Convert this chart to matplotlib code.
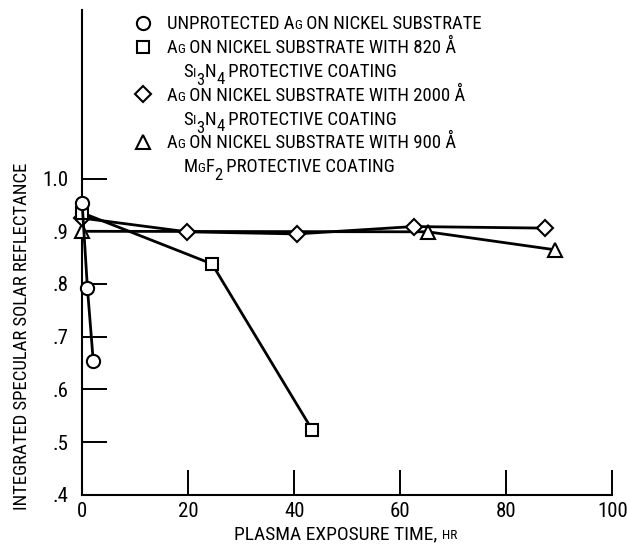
import matplotlib
matplotlib.use("Agg")
import matplotlib.pyplot as plt
from matplotlib import font_manager as fm
from matplotlib.lines import Line2D

# pick a narrow lettering font if one is around
have = set(f.name for f in fm.fontManager.ttflist)
narrow = ['Liberation Sans Narrow', 'Roboto Condensed', 'PT Sans Narrow', 'Archivo Narrow',
          'Fira Sans Condensed', 'IBM Plex Sans Condensed', 'Open Sans Condensed',
          'Encode Sans Condensed', 'DejaVu Sans']
font = next(n for n in narrow if n in have or n == 'DejaVu Sans')
plt.rcParams['font.family'] = [font, 'DejaVu Sans']

# data
unprot_t = [0, 1.0, 2.1]
unprot_r = [0.953, 0.792, 0.653]

si820_t = [0, 24.5, 43.4]
si820_r = [0.935, 0.838, 0.523]

si2000_t = [0, 19.8, 40.5, 62.5, 87.3]
si2000_r = [0.925, 0.899, 0.895, 0.909, 0.906]

mgf_t = [0, 65.2, 89.1]
mgf_r = [0.900, 0.899, 0.865]

xticks = [0, 20, 40, 60, 80, 100]
yticks = [0.4, 0.5, 0.6, 0.7, 0.8, 0.9, 1.0]
ytick_labels = ['.4', '.5', '.6', '.7', '.8', '.9', '1.0']

fig = plt.figure(figsize=(6.27, 5.44), dpi=100)
ax = fig.add_axes([0.131, 0.0906, 0.8456, 0.891])

style = dict(color='black', lw=2.0, mfc='white', mec='black', mew=1.5, clip_on=False)
ax.plot(mgf_t, mgf_r, marker='^', ms=10, zorder=3, **style)
ax.plot(si2000_t, si2000_r, marker='D', ms=8.5, zorder=4, **style)
ax.plot(si820_t, si820_r, marker='s', ms=9, zorder=5, **style)
ax.plot(unprot_t, unprot_r, marker='o', ms=9.5, zorder=6, **style)

ax.set_xlim(0, 100)
ax.set_ylim(0.4, 1.32)
ax.set_xticks(xticks)
ax.set_yticks(yticks)
ax.set_yticklabels(ytick_labels)
for s in ['top', 'right']:
    ax.spines[s].set_visible(False)
for s in ['left', 'bottom']:
    ax.spines[s].set_linewidth(1.5)
ax.tick_params(axis='both', direction='in', length=18, width=1.4, labelsize=15)
ax.tick_params(axis='y', pad=10)
ax.tick_params(axis='x', pad=5)

big, small, sub = 13.5, 9.6, 12
DESC = 0.21  # descent as a fraction of font size


def chain(x, y, parts):
    # pieces (text, size, baseline shift in pt), each one starts where the last ends
    txt, sz, dy = parts[0]
    prev = fig.text(x/627, 1-y/544, txt, fontsize=sz, va='baseline', ha='left')
    psz, pdy = sz, dy
    for txt, sz, dy in parts[1:]:
        off = (dy - pdy) + DESC*(psz - sz)
        prev = ax.annotate(txt, xy=(1, 0), xycoords=prev, xytext=(0, off),
                           textcoords='offset points', fontsize=sz,
                           va='bottom', ha='left', annotation_clip=False)
        psz, pdy = sz, dy
    return prev


ag = [('A', big, 0), ('G', small, 0)]
si3n4 = [('S', big, 0), ('I', small, 0), ('3', sub, -5.5), ('N', big, 0), ('4', sub, -4.5),
         (' PROTECTIVE COATING', big, 0)]
mgf2 = [('M', big, 0), ('G', small, 0), ('F', big, 0), ('2', sub, -5.5),
        (' PROTECTIVE COATING', big, 0)]

rows = [
    ('o', [('UNPROTECTED A', big, 0), ('G', small, 0), (' ON NICKEL SUBSTRATE', big, 0)], 166.7),
    ('s', ag + [(' ON NICKEL SUBSTRATE WITH 820 Å', big, 0)], 166.7),
    (None, si3n4, 183.3),
    ('D', ag + [(' ON NICKEL SUBSTRATE WITH 2000 Å', big, 0)], 166.7),
    (None, si3n4, 183.3),
    ('^', ag + [(' ON NICKEL SUBSTRATE WITH 900 Å', big, 0)], 166.7),
    (None, mgf2, 183.3),
]
msz = {'o': 9.5, 's': 9, 'D': 8.5, '^': 10}
for i, (mk, parts, x0) in enumerate(rows):
    yc = 22.7 + i*23.8
    if mk is not None:
        fig.lines.append(Line2D([142.7/627], [1-yc/544], marker=mk, ms=msz[mk],
                                mfc='white', mec='black', mew=1.5,
                                transform=fig.transFigure, figure=fig))
    chain(x0, yc + 6.7, parts)

# axis titles, with small caps HR
chain(234, 539, [('PLASMA EXPOSURE TIME, ', 14, 0), ('HR', small, 0)])
fig.text(22/627, 1-336/544, 'INTEGRATED SPECULAR SOLAR REFLECTANCE',
         rotation=90, ha='center', va='center', fontsize=big)

fig.savefig('out.png', dpi=100)
